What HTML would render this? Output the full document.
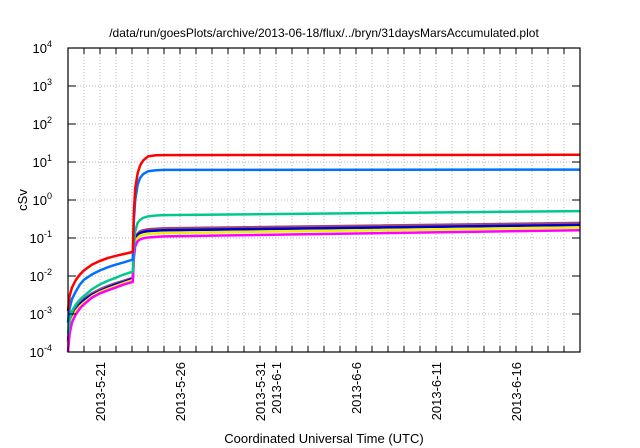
<!DOCTYPE html>
<html><head><meta charset="utf-8"><style>
body{margin:0;background:#fff}
svg{display:block;font-family:"Liberation Sans",sans-serif}
</style></head><body>
<svg id="chart" width="640" height="448">
<text x="324" y="37" font-size="12" text-anchor="middle">/data/run/goesPlots/archive/2013-06-18/flux/../bryn/31daysMarsAccumulated.plot</text>
<text x="27" y="200" font-size="13" text-anchor="middle" transform="rotate(-90 27 200)">cSv</text>
<text x="324" y="443" font-size="13" text-anchor="middle">Coordinated Universal Time (UTC)</text>
<g id="grid"></g><g id="series"></g><g id="axes"></g>
</svg>
<script>
// days since 2013-05-19
const days = [0, 0.1, 0.25, 0.5, 0.75, 1, 1.5, 2, 2.5, 3, 3.5, 4.05, 4.12, 4.2, 4.35, 4.5, 4.7, 5, 5.5, 6, 32];
const redVals = [0.0012, 0.003, 0.005, 0.008, 0.011, 0.014, 0.02, 0.025, 0.03, 0.034, 0.038, 0.043, 0.5, 2, 5, 8, 11, 14, 15, 15.2, 15.5];
const blueVals = [0.0006, 0.0014, 0.0025, 0.004, 0.006, 0.008, 0.011, 0.014, 0.017, 0.02, 0.023, 0.027, 0.3, 1, 2.5, 3.8, 4.8, 5.7, 6.1, 6.2, 6.3];
const tealVals = [0.0003, 0.0007, 0.0012, 0.0018, 0.0024, 0.003, 0.0045, 0.006, 0.0075, 0.009, 0.011, 0.013, 0.06, 0.15, 0.25, 0.3, 0.34, 0.37, 0.39, 0.4, 0.51];
const purpleVals = [0.0002, 0.0005, 0.0009, 0.0015, 0.002, 0.0025, 0.0035, 0.0045, 0.0055, 0.0065, 0.0075, 0.009, 0.05, 0.09, 0.13, 0.15, 0.16, 0.17, 0.175, 0.18, 0.25];
const navyVals = [0.00018, 0.00045, 0.0008, 0.0013, 0.0018, 0.0023, 0.0032, 0.004, 0.005, 0.006, 0.007, 0.0085, 0.045, 0.085, 0.12, 0.135, 0.145, 0.152, 0.157, 0.16, 0.22];
const yellowVals = [0.00015, 0.0004, 0.0007, 0.0012, 0.0016, 0.002, 0.0029, 0.0038, 0.0046, 0.0055, 0.0065, 0.0078, 0.04, 0.075, 0.1, 0.115, 0.122, 0.128, 0.132, 0.135, 0.19];
const magentaVals = [0.0001, 0.0003, 0.0006, 0.001, 0.0014, 0.0018, 0.0027, 0.0035, 0.0042, 0.005, 0.006, 0.007, 0.03, 0.06, 0.082, 0.092, 0.098, 0.103, 0.107, 0.11, 0.16];
const yExps = [-4, -3, -2, -1, 0, 1, 2, 3, 4];
const xLabels = ["2013-5-21", "2013-5-26", "2013-5-31", "2013-6-1", "2013-6-6", "2013-6-11", "2013-6-16"];
const xLabelDays = [2, 7, 12, 13, 18, 23, 28];

const L=68,R=580,T=48,B=352,NS="http://www.w3.org/2000/svg";
const xs=d=>L+(d/32)*(R-L);
const ys=v=>T+(4-Math.log10(v))/8*(B-T);
function mk(tag,attrs,parent){const e=document.createElementNS(NS,tag);for(const k in attrs)e.setAttribute(k,attrs[k]);parent.appendChild(e);return e;}
const grid=document.getElementById('grid'),axes=document.getElementById('axes'),ser=document.getElementById('series');
for(let d=1;d<32;d++){
  const g=mk('line',{x1:xs(d),x2:xs(d),y1:T,y2:B,stroke:'#bbb','stroke-dasharray':'1,2'},grid);
  
  
  const t1=mk('line',{x1:xs(d),x2:xs(d),y1:B,y2:B-6,stroke:'#000'},axes);
  
  
  const t2=mk('line',{x1:xs(d),x2:xs(d),y1:T,y2:T+6,stroke:'#000'},axes);
  
  
}
yExps.forEach(e=>{
  const y=ys(Math.pow(10,e));
  if(e>-4&&e<4){const g=mk('line',{x1:L,x2:R,y1:y,y2:y,stroke:'#bbb','stroke-dasharray':'1,2'},grid);
  
  }
  const t=mk('line',{x1:L,x2:L+8,y1:y,y2:y,stroke:'#000'},axes);
  
  
  const t2=mk('line',{x1:R,x2:R-8,y1:y,y2:y,stroke:'#000'},axes);
  
  
  const lb=mk('text',{x:L-16,y:y+5,'font-size':13,'text-anchor':'end'},axes);
  
  
  lb.textContent='10';
  const sp=mk('tspan',{dy:-6,'font-size':9},lb);sp.textContent=String(e);
});
xLabels.forEach((s,i)=>{
  const x=xs(xLabelDays[i])+5;
  const t=mk('text',{x:x,y:B+10,'font-size':13,'text-anchor':'end',transform:`rotate(-90 ${x} ${B+10})`},axes);
  
  
  t.textContent=s;
});
const frame=mk('rect',{x:L,y:T,width:R-L,height:B-T,fill:'none',stroke:'#000','stroke-width':1.2},axes);


const series=[[purpleVals,'#9a4a7a','purple'],[navyVals,'#0000cc','navy'],[yellowVals,'#f0f000','yellow'],[magentaVals,'#ff00ff','magenta'],[tealVals,'#00c890','teal'],[blueVals,'#0070ff','blue'],[redVals,'#ff0000','red']];
series.forEach(([v,c,n])=>{
  let d='';
  v.forEach((val,i)=>{d+=(i?'L':'M')+xs(days[i]).toFixed(1)+','+ys(val).toFixed(1);});
  const p=mk('path',{d:d,fill:'none',stroke:c,'stroke-width':2.5,'stroke-linejoin':'round'},ser);
  
  
});
</script>
</body></html>
